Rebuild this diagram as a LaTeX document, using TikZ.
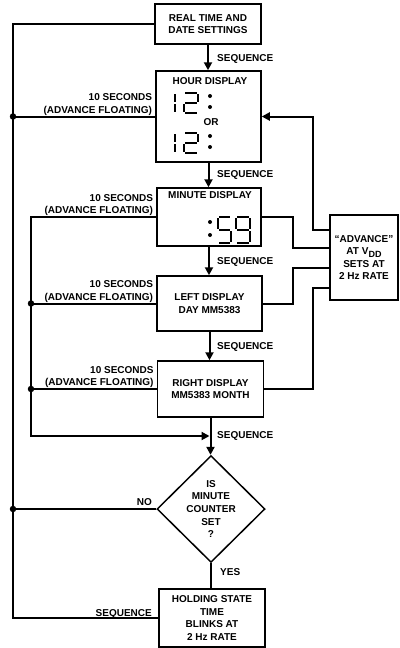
\documentclass[tikz,border=0pt]{standalone}
\usepackage{fontspec}
\setmainfont{Liberation Sans}
\usetikzlibrary{positioning,shapes.geometric,arrows.meta}

\begin{document}
\begin{tikzpicture}[x=1pt, y=-1pt,
  every node/.style={font=\fontsize{10}{12.6}\selectfont\bfseries, align=center, inner sep=1pt},
  box/.style={draw, line width=1.5pt, inner sep=0pt},
  link/.style={line width=2pt},
  flow/.style={link, -{Triangle[width=8pt,length=8pt]}},
  seg/.style={line width=1.1pt},
  junct/.style={circle, fill, inner sep=0pt, minimum size=6.5pt}]
  \useasboundingbox (0,0) rectangle (399,648);

  % blocks
  \node[box, minimum width=106pt, minimum height=40pt] (settings) at (208,24) {REAL TIME AND\\DATE SETTINGS};
  \node[box, minimum width=105pt, minimum height=91pt] (hour) at (208.5,116.5) {};
  \node (hourtitle) at (210,81) {HOUR DISPLAY};
  \node (or) at (211,122) {OR};
  \node[box, minimum width=104pt, minimum height=58pt] (minute) at (209,217) {};
  \node (minutetitle) at (210,195) {MINUTE DISPLAY};
  \node[box, minimum width=105pt, minimum height=55pt] (left) at (209.5,303.5) {LEFT DISPLAY\\DAY MM5383};
  \node[box, minimum width=106pt, minimum height=56pt] (right) at (210.5,389) {RIGHT DISPLAY\\MM5383 MONTH};
  \node[draw, diamond, line width=1.5pt, aspect=1, inner sep=0pt, minimum width=108pt, minimum height=106pt] (decide) at (211,509) {IS\\MINUTE\\COUNTER\\SET\\?};
  \node[box, minimum width=106pt, minimum height=58pt] (holding) at (212,618) {HOLDING STATE\\TIME\\BLINKS AT\\2 Hz RATE};
  \node[box, minimum width=68pt, minimum height=85pt] (advance) at (364,257.5) {``ADVANCE''\\AT V\raisebox{-2.5pt}{\fontsize{9}{9}\selectfont DD}\\SETS AT\\2 Hz RATE};

  % seven segment readouts
  \foreach \yy in {93,133} {
    \draw[seg] (175,\yy+1) -- (175,\yy+9) (175,\yy+11) -- (175,\yy+19);
    \draw[seg] (185,\yy) -- (197,\yy) (198,\yy+1) -- (198,\yy+9) (185,\yy+10) -- (197,\yy+10)
      (184,\yy+11) -- (184,\yy+19) (185,\yy+20) -- (197,\yy+20);
    \fill (210,\yy+3) circle (2pt) (210,\yy+14) circle (2pt);
  }
  \fill (210,222) circle (2pt) (210,235) circle (2pt);
  \draw[seg] (219,217) -- (230,217) (218,218) -- (218,229) (219,230) -- (230,230)
    (231,231) -- (231,242) (219,243) -- (230,243);
  \draw[seg] (237,217) -- (249,217) (236,218) -- (236,229) (250,218) -- (250,229)
    (237,230) -- (249,230) (250,231) -- (250,242) (237,243) -- (249,243);

  \coordinate (rail) at (13,0);
  \coordinate (rail2) at (31,0);
  \coordinate (merge) at (210.5,436);

  % sequence path
  \draw[flow] (settings.south) -- (settings.south |- hour.north);
  \draw[flow] (hour.south) -- (hour.south |- minute.north);
  \draw[flow] (minute.south) -- (minute.south |- left.north);
  \draw[flow] (left.south) -- (left.south |- right.north);
  \draw[flow] (right.south) -- (right.south |- decide.north);
  \draw[link] (decide.south) -- (decide.south |- holding.north);

  % return rails
  \draw[link] (settings.west) -| (rail |- holding.west) -- (holding.west);
  \draw[link] (hour.west) -- (hour.west -| rail) node[junct] (j1) {};
  \draw[link] (decide.west) -- (decide.west -| rail) node[junct] (j2) {};
  \draw[flow] (minute.west) -| (rail2 |- merge) -- ([xshift=-1pt]merge);
  \draw[link] (left.west) -- (left.west -| rail2) node[junct] (j3) {};
  \draw[link] (right.west) -- (right.west -| rail2) node[junct] (j4) {};

  % advance lines
  \draw[flow] (advance.west |- 0,230) -- (313,230) |- (hour.east);
  \draw[link] (minute.east) -| (293,248) -- (advance.west |- 0,248);
  \draw[link] (left.east) -| (293,268) -- (advance.west |- 0,268);
  \draw[link] (right.east) -| (313,288) -- (advance.west |- 0,288);

  % labels
  \node[anchor=west] (seq1) at (216,59) {SEQUENCE};
  \node[anchor=west] (seq2) at (216,175) {SEQUENCE};
  \node[anchor=west] (seq3) at (216,262) {SEQUENCE};
  \node[anchor=west] (seq4) at (216,347) {SEQUENCE};
  \node[anchor=west] (seq5) at (216,436) {SEQUENCE};
  \node[anchor=south east, align=right] (float1) at ([xshift=-2pt]hour.west) {10 SECONDS\\(ADVANCE FLOATING)};
  \node[anchor=south east, align=right] (float2) at ([xshift=-2pt]minute.west) {10 SECONDS\\(ADVANCE FLOATING)};
  \node[anchor=south east, align=right] (float3) at ([xshift=-2pt]left.west) {10 SECONDS\\(ADVANCE FLOATING)};
  \node[anchor=south east, align=right] (float4) at ([xshift=-2pt]right.west) {10 SECONDS\\(ADVANCE FLOATING)};
  \node[anchor=east] (no) at (153,502) {NO};
  \node[anchor=west] (yes) at (219,572) {YES};
  \node[anchor=east] (seqback) at (153,614) {SEQUENCE};
\end{tikzpicture}
\end{document}
